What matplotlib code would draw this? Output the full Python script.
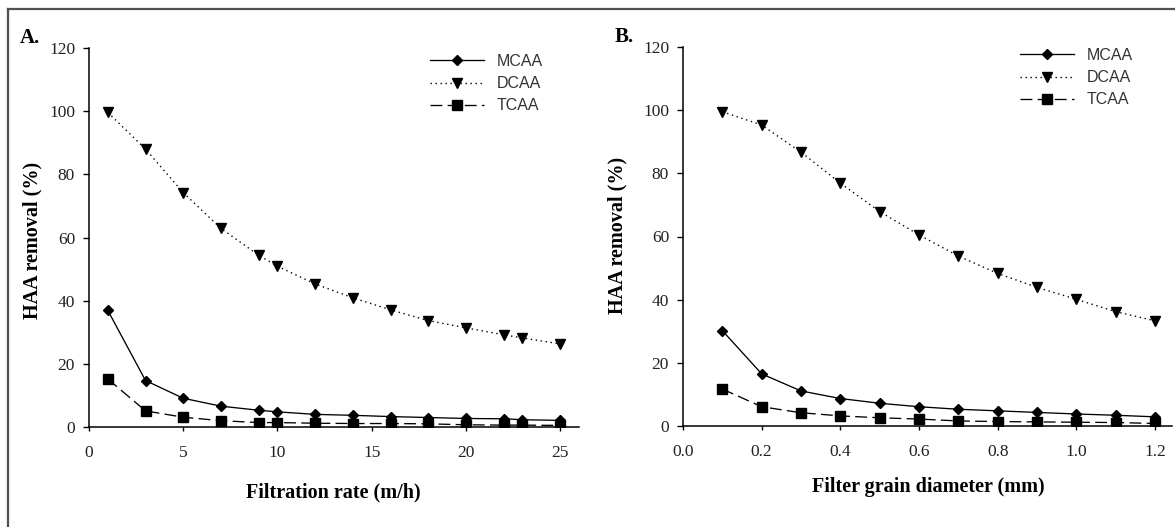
import matplotlib
matplotlib.use("Agg")
import matplotlib.pyplot as plt
from matplotlib.lines import Line2D

# ---- data ----
rate = [1, 3, 5, 7, 9, 10, 12, 14, 16, 18, 20, 22, 23, 25]
a_mcaa = [36.9, 14.7, 9.1, 6.6, 5.3, 4.8, 4.0, 3.7, 3.3, 3.0, 2.7, 2.6, 2.3, 2.1]
a_dcaa = [99.6, 88.0, 74.2, 62.9, 54.4, 50.9, 45.3, 40.9, 37.1, 33.7, 31.4, 29.2, 28.2, 26.3]
a_tcaa = [15.2, 5.1, 3.1, 2.0, 1.4, 1.4, 1.2, 1.1, 1.1, 1.0, 0.7, 0.6, 0.6, 0.5]

diam = [0.1, 0.2, 0.3, 0.4, 0.5, 0.6, 0.7, 0.8, 0.9, 1.0, 1.1, 1.2]
b_mcaa = [30.2, 16.5, 11.1, 8.7, 7.2, 6.1, 5.3, 4.8, 4.3, 3.8, 3.4, 2.9]
b_dcaa = [99.5, 95.3, 86.7, 76.9, 67.9, 60.5, 53.8, 48.3, 43.9, 40.1, 36.2, 33.3]
b_tcaa = [11.7, 6.1, 4.2, 3.2, 2.6, 2.2, 1.6, 1.4, 1.3, 1.2, 1.1, 0.8]

a_xticks = [0, 5, 10, 15, 20, 25]
b_xticks = [0.0, 0.2, 0.4, 0.6, 0.8, 1.0, 1.2]
b_xticklabels = ["0.0", "0.2", "0.4", "0.6", "0.8", "1.0", "1.2"]
yticks = [0, 20, 40, 60, 80, 100, 120]
series_names = ["MCAA", "DCAA", "TCAA"]

W, H = 1175, 527
fig = plt.figure(figsize=(W / 100, H / 100), dpi=100)

SERIF = ["Liberation Serif", "DejaVu Serif"]
SANS = ["Liberation Sans", "DejaVu Sans"]
TXT = "#222222"

def fx(px):
    return px / W

def fy(py):
    return 1 - py / H

# frame lines (top and left)
fig.add_artist(Line2D([fx(8), 1.0], [fy(9), fy(9)], transform=fig.transFigure,
                      color="#505050", lw=1.6))
fig.add_artist(Line2D([fx(8), fx(8)], [0.0, fy(9)], transform=fig.transFigure,
                      color="#505050", lw=1.6))

def make_axes(rect, x, m, d, t, xlim, xticks, xticklabels):
    ax = fig.add_axes(rect)
    ax.plot(x, m, color="black", lw=0.95, marker="D", ms=5, label=series_names[0])
    ax.plot(x, d, color="black", lw=1.0, dashes=(1, 2.6), marker="v", ms=7.5,
            label=series_names[1])
    ax.plot(x, t, color="black", lw=0.95, dashes=(9, 4), marker="s", ms=6.5,
            label=series_names[2])
    ax.set_xlim(*xlim)
    ax.set_ylim(0, 120)
    ax.set_xticks(xticks)
    ax.set_xticklabels(xticklabels)
    ax.set_yticks(yticks)
    for s in ["top", "right"]:
        ax.spines[s].set_visible(False)
    for s in ["left", "bottom"]:
        ax.spines[s].set_linewidth(1.1)
    ax.tick_params(axis="y", direction="out", length=4, width=1, pad=6,
                   labelsize=12.5, labelcolor=TXT)
    ax.tick_params(axis="x", direction="out", length=3, width=1, pad=10,
                   labelsize=12.5, labelcolor=TXT)
    for lab in ax.get_xticklabels() + ax.get_yticklabels():
        lab.set_family(SERIF)
    return ax

axA = make_axes([fx(89), fy(427), fx(579) - fx(89), (427 - 48) / H],
                rate, a_mcaa, a_dcaa, a_tcaa, (0, 26), a_xticks,
                [str(v) for v in a_xticks])
axB = make_axes([fx(683), fy(426), fx(1172) - fx(683), (426 - 47) / H],
                diam, b_mcaa, b_dcaa, b_tcaa, (0, 1.243), b_xticks, b_xticklabels)

for ax, lx, ly in [(axA, 430, 54), (axB, 1020, 48)]:
    leg = ax.legend(loc="upper left", bbox_to_anchor=(fx(lx), fy(ly)),
                    bbox_transform=fig.transFigure, frameon=False,
                    prop={"family": SANS, "size": 11.5}, handlelength=3.4,
                    handletextpad=0.8, labelspacing=0.45, borderpad=0,
                    borderaxespad=0)
    for t in leg.get_texts():
        t.set_color("#333333")

# panel letters
fig.text(fx(20), fy(43), "A.", fontsize=15, fontweight="bold", family=SERIF,
         color="black", ha="left", va="baseline")
fig.text(fx(615), fy(42), "B.", fontsize=15, fontweight="bold", family=SERIF,
         color="black", ha="left", va="baseline")

# axis labels
fig.text(fx(32), fy(240), "HAA removal (%)", rotation=90, fontsize=14.5,
         fontweight="bold", family=SERIF, ha="center", va="center", color="black")
fig.text(fx(617), fy(235), "HAA removal (%)", rotation=90, fontsize=14.5,
         fontweight="bold", family=SERIF, ha="center", va="center", color="black")
fig.text(fx(333), fy(492), "Filtration rate (m/h)", fontsize=14.5,
         fontweight="bold", family=SERIF, ha="center", va="center", color="black")
fig.text(fx(928), fy(487), "Filter grain diameter (mm)", fontsize=14.5,
         fontweight="bold", family=SERIF, ha="center", va="center", color="black")

fig.savefig("out.png", dpi=100)
